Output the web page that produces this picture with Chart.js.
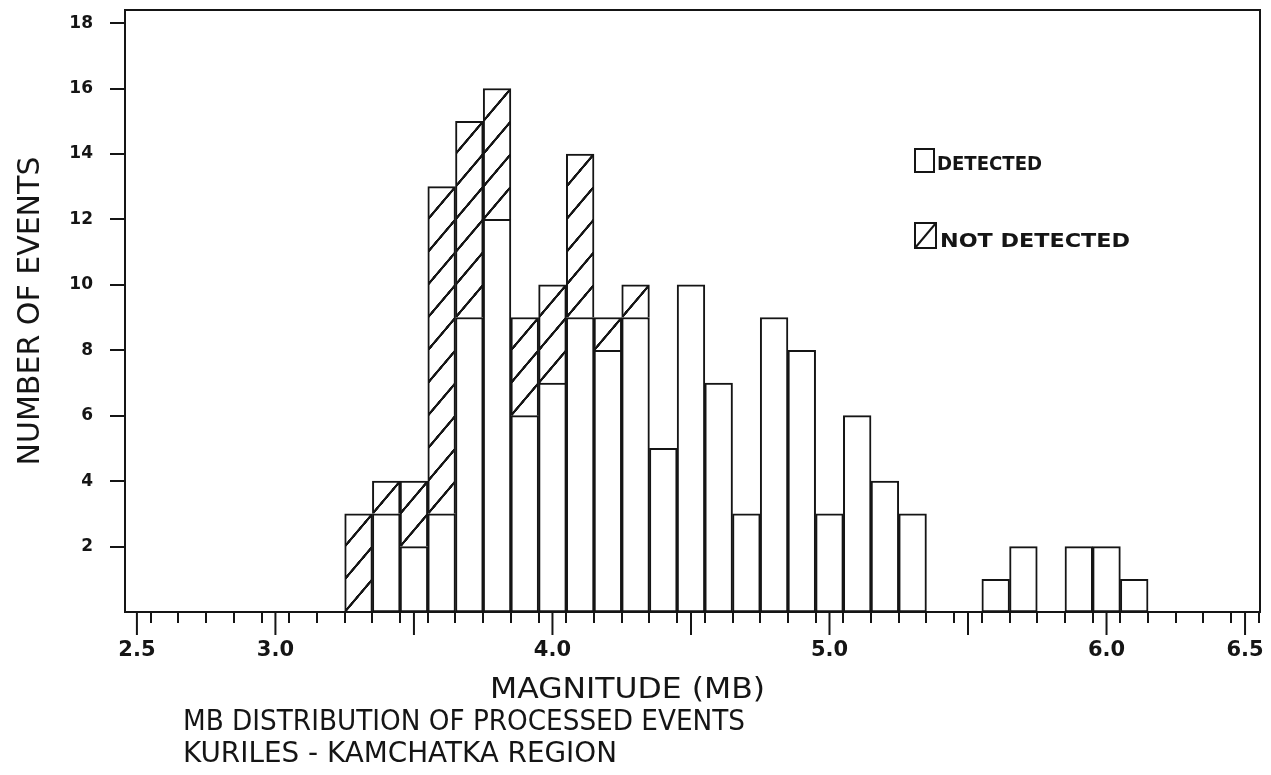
<!DOCTYPE html>
<html>
<head>
<meta charset="utf-8">
<script src="https://cdn.jsdelivr.net/npm/chart.js@4/dist/chart.umd.min.js"></script>
<style>
html,body{margin:0;padding:0;background:#fff;}
#wrap{position:relative;width:1271px;height:775px;}
</style>
</head>
<body>
<div id="wrap"><canvas id="myChart"></canvas></div>
<script>
// mb bins (bin centres), counts
let magnitudes=[3.3,3.4,3.5,3.6,3.7,3.8,3.9,4.0,4.1,4.2,4.3,4.4,4.5,4.6,4.7,4.8,4.9,5.0,5.1,5.2,5.3,5.4,5.5,5.6,5.7,5.8,5.9,6.0,6.1]
let detected=[0,3,2,3,9,12,6,7,9,8,9,5,10,7,3,9,8,3,6,4,3,0,0,1,2,0,2,2,1]
let notDetected=[3,1,2,10,6,4,3,3,5,1,1,0,0,0,0,0,0,0,0,0,0,0,0,0,0,0,0,0,0]
let binWidth=0.1
let xTickLabels=['2.5','3.0','4.0','5.0','6.0','6.5']
let xMajorTicks=[2.5,3.0,3.5,4.0,4.5,5.0,5.5,6.0,6.5]
let yTickValues=[2,4,6,8,10,12,14,16,18]

let ink='#151515'
let font='"DejaVu Sans"'

let hatchCache={}
function hatch(chart){
    let xs=chart.scales.x, ys=chart.scales.y
    if(!xs||!ys) return '#fff'
    let w=xs.getPixelForValue(binWidth)-xs.getPixelForValue(0)
    let h=ys.getPixelForValue(0)-ys.getPixelForValue(1)
    let x0=xs.getPixelForValue(magnitudes[0]-binWidth/2)
    let y0=ys.getPixelForValue(0)
    let key=[w,h,x0,y0].map(v=>v.toFixed(2)).join('|')
    if(hatchCache[key]) return hatchCache[key]
    let tile=document.createElement('canvas')
    tile.width=100; tile.height=100
    let t=tile.getContext('2d')
    t.fillStyle='#fff'; t.fillRect(0,0,100,100)
    t.strokeStyle=ink; t.lineWidth=8
    for(let k=-1;k<=1;k++){
        t.beginPath(); t.moveTo(k*100,100); t.lineTo(k*100+100,0); t.stroke()
    }
    let p=chart.ctx.createPattern(tile,'repeat')
    p.setTransform(new DOMMatrix().translate(x0,y0).scale(w/100,h/100))
    hatchCache[key]=p
    return p
}

function fitText(ctx,text,x,baseline,width,size,weight){
    ctx.save()
    ctx.font=(weight||'normal')+' '+size+'px '+font
    ctx.fillStyle=ink
    ctx.textBaseline='alphabetic'
    let m=ctx.measureText(text).width
    ctx.translate(x,baseline)
    ctx.scale(width/m,1)
    ctx.fillText(text,0,0)
    ctx.restore()
}

let paper={
    id:'paper',
    beforeDraw(chart){
        let c=chart.ctx
        c.save(); c.fillStyle='#fff'; c.fillRect(0,0,chart.width,chart.height); c.restore()
    }
}

let frame={
    id:'frame',
    afterDraw(chart){
        let c=chart.ctx, a=chart.chartArea, xs=chart.scales.x
        c.save()
        c.strokeStyle=ink; c.lineWidth=2
        c.strokeRect(a.left,a.top,a.right-a.left,a.bottom-a.top)
        // long ticks every 0.5
        xMajorTicks.forEach(v=>{
            let px=xs.getPixelForValue(v)
            c.beginPath(); c.moveTo(px,a.bottom); c.lineTo(px,a.bottom+23); c.stroke()
        })
        c.restore()

        fitText(c,'MAGNITUDE (MB)',490,698,275,29)
        fitText(c,'MB DISTRIBUTION OF PROCESSED EVENTS',183,730,562,29)
        fitText(c,'KURILES - KAMCHATKA REGION',183,762,434,29)

        // legend
        let ds=chart.data.datasets
        c.save()
        c.strokeStyle=ink; c.lineWidth=2
        c.fillStyle='#fff'
        c.fillRect(915,149,19,23); c.strokeRect(915,149,19,23)
        c.fillRect(915,223,21,25); c.strokeRect(915,223,21,25)
        c.beginPath(); c.moveTo(915,248); c.lineTo(936,223); c.stroke()
        c.restore()
        fitText(c,ds[0].label,937,170,105,20,'bold')
        fitText(c,ds[1].label,940,247,190,20,'bold')
    }
}

let chart=new Chart(document.getElementById('myChart'),{
    type:'bar',
    data:{
        datasets:[{
            label:'DETECTED',
            data:magnitudes.map((m,i)=>({x:m,y:detected[i]})),
            backgroundColor:'#fff',
            borderColor:ink,
            borderWidth:2,
            borderSkipped:false,
            stack:'s'
        },{
            label:'NOT DETECTED',
            data:magnitudes.map((m,i)=>({x:m,y:notDetected[i]})),
            backgroundColor:ctx=>hatch(ctx.chart),
            borderColor:ink,
            borderWidth:2,
            borderSkipped:'start',
            stack:'s'
        }]
    },
    options:{
        responsive:true,
        maintainAspectRatio:false,
        animation:false,
        barPercentage:1,
        categoryPercentage:1,
        layout:{padding:{top:10,right:11,left:0,bottom:0}},
        plugins:{legend:{display:false},tooltip:{enabled:false}},
        scales:{
            x:{
                type:'linear',
                min:2.457,
                max:6.554,
                offset:false,
                afterFit:s=>{s.height=163; s.paddingLeft=0; s.paddingRight=0},
                afterBuildTicks:s=>{
                    s.ticks=s.ticks.filter(t=>Math.abs(t.value*10-Math.round(t.value*10))<1e-6)
                },
                ticks:{
                    stepSize:0.1,
                    includeBounds:false,
                    autoSkip:false,
                    maxRotation:0,
                    padding:15,
                    color:ink,
                    font:{family:font,size:21,weight:'bold'},
                    callback:v=>xTickLabels.includes(Number(v).toFixed(1))?Number(v).toFixed(1):''
                },
                grid:{drawOnChartArea:false,drawTicks:true,tickLength:11,color:ink,lineWidth:2},
                border:{display:true,color:ink,width:2}
            },
            y:{
                stacked:true,
                min:0,
                max:18.4,
                afterFit:s=>{s.width=125; s.paddingTop=0; s.paddingBottom=0},
                afterBuildTicks:s=>{
                    s.ticks=s.ticks.filter(t=>yTickValues.includes(Math.round(t.value*1000)/1000))
                },
                ticks:{
                    stepSize:2,
                    includeBounds:false,
                    padding:17,
                    color:ink,
                    font:{family:font,size:17,weight:'bold'}
                },
                grid:{drawOnChartArea:false,drawTicks:true,tickLength:15,color:ink,lineWidth:2},
                border:{display:true,color:ink,width:2},
                title:{
                    display:true,
                    text:'NUMBER OF EVENTS',
                    color:ink,
                    font:{family:font,size:30},
                    padding:{top:13,bottom:0}
                }
            }
        }
    },
    plugins:[paper,frame]
})
</script>
</body>
</html>
